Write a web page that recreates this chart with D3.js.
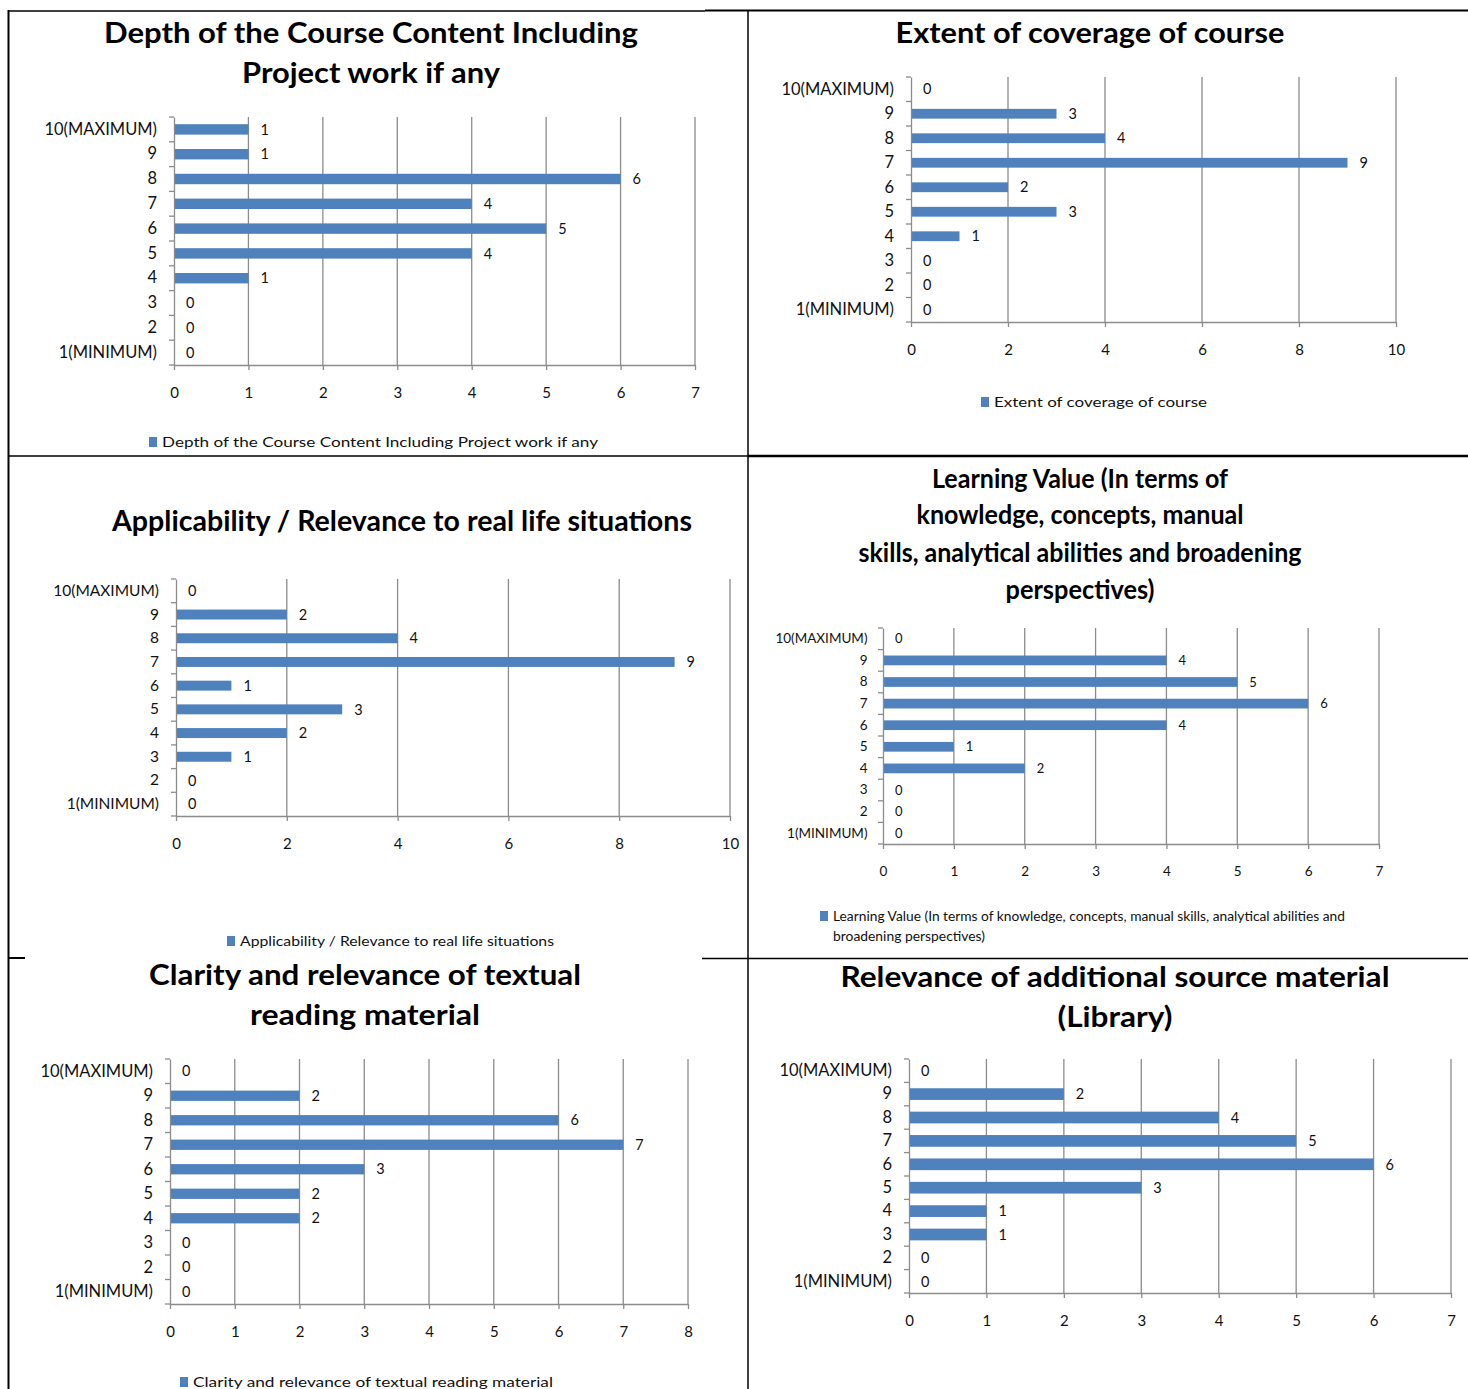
<!DOCTYPE html>
<html><head><meta charset="utf-8">
<script src="https://cdn.jsdelivr.net/npm/d3@7"></script>
<style>body{margin:0;background:#fff} svg{display:block}</style>
</head><body><svg id="c" width="1468" height="1389"></svg>
<script>
// ---------- DATA ----------
const categories = ["10(MAXIMUM)","9","8","7","6","5","4","3","2","1(MINIMUM)"];

const depthValues         = [1,1,6,4,5,4,1,0,0,0];
const coverageValues      = [0,3,4,9,2,3,1,0,0,0];
const applicabilityValues = [0,2,4,9,1,3,2,1,0,0];
const learningValues      = [0,4,5,6,4,1,2,0,0,0];
const clarityValues       = [0,2,6,7,3,2,2,0,0,0];
const libraryValues       = [0,2,4,5,6,3,1,1,0,0];

const depthTicks         = [0,1,2,3,4,5,6,7];
const coverageTicks      = [0,2,4,6,8,10];
const applicabilityTicks = [0,2,4,6,8,10];
const learningTicks      = [0,1,2,3,4,5,6,7];
const clarityTicks       = [0,1,2,3,4,5,6,7,8];
const libraryTicks       = [0,1,2,3,4,5,6,7];

const depthTitle         = ["Depth of the Course Content Including","Project work if any"];
const coverageTitle      = ["Extent of coverage of course"];
const applicabilityTitle = ["Applicability / Relevance to real life situations"];
const learningTitle      = ["Learning Value (In terms of","knowledge, concepts, manual","skills, analytical abilities and broadening","perspectives)"];
const clarityTitle       = ["Clarity and relevance of textual","reading material"];
const libraryTitle       = ["Relevance of additional source material","(Library)"];

const depthLegend         = ["Depth of the Course Content Including Project work if any"];
const coverageLegend      = ["Extent of coverage of course"];
const applicabilityLegend = ["Applicability / Relevance to real life situations"];
const learningLegend      = ["Learning Value (In terms of knowledge, concepts, manual skills, analytical abilities and","broadening perspectives)"];
const clarityLegend       = ["Clarity and relevance of textual reading material"];
const libraryLegend       = [];

// ---------- LAYOUT ----------
const svg = d3.select("#c");
const FONT = "Lato, 'Open Sans', sans-serif";
const BAR = "#4f81bd", GRID = "#8c8c8c", INK = "#111";

const panels = [
  {values:depthValues, ticks:depthTicks, title:depthTitle, legend:depthLegend,
   left:174, right:695, top:117, bottom:365, pad:0.58, tfs:28, fs:15, yfs:16.5,
   titleX:371, titleY:[33,73], titleW:[534,258],
   legX:149, legY:[442], legW:[436]},
  {values:coverageValues, ticks:coverageTicks, title:coverageTitle, legend:coverageLegend,
   left:911, right:1396, top:77, bottom:322, pad:0.6, tfs:28, fs:15, yfs:16.5,
   titleX:1090, titleY:[33], titleW:[389],
   legX:981, legY:[402], legW:[213]},
  {values:applicabilityValues, ticks:applicabilityTicks, title:applicabilityTitle, legend:applicabilityLegend,
   left:176, right:730, top:579, bottom:816, pad:0.58, tfs:28, fs:15, yfs:15.5,
   titleX:402, titleY:[521], titleW:[580],
   legX:227, legY:[941], legW:[314]},
  {values:learningValues, ticks:learningTicks, title:learningTitle, legend:learningLegend,
   left:883, right:1379, top:628, bottom:844, pad:0.55, tfs:26, fs:13.5, yfs:13.5,
   titleX:1080, titleY:[479,515,553,590], titleW:[296,327,443,149],
   legX:820, legY:[916,936], legW:[512,152]},
  {values:clarityValues, ticks:clarityTicks, title:clarityTitle, legend:clarityLegend,
   left:170, right:688, top:1059, bottom:1304, pad:0.58, tfs:28, fs:15, yfs:16.5,
   titleX:365, titleY:[975,1015], titleW:[432,230],
   legX:180, legY:[1382], legW:[360]},
  {values:libraryValues, ticks:libraryTicks, title:libraryTitle, legend:libraryLegend,
   left:909, right:1451, top:1059, bottom:1293, pad:0.5, tfs:28, fs:15, yfs:16.5,
   titleX:1115, titleY:[977,1017], titleW:[549,115],
   legX:0, legY:[], legW:[]}
];

function fit(sel, w){ if(w) sel.attr("textLength", w).attr("lengthAdjust","spacingAndGlyphs"); }

function drawPanel(p){
  const g = svg.append("g");
  const x = d3.scaleLinear().domain([0, d3.max(p.ticks)]).range([p.left, p.right]);
  const y = d3.scaleBand().domain(categories).range([p.top, p.bottom])
              .paddingInner(p.pad).paddingOuter(p.pad/2);
  const rows = p.values.map((v,i)=>({c:categories[i], v}));

  // title
  p.title.forEach((t,i)=>{
    const s = g.append("text").attr("x",p.titleX).attr("y",p.titleY[i]).attr("dy","0.36em")
      .attr("text-anchor","middle").attr("font-family",FONT).attr("font-weight",700)
      .attr("font-size",p.tfs).attr("fill","#000").text(t);
    fit(s, p.titleW[i]);
  });

  // grid
  g.append("g").selectAll("line").data(p.ticks.filter(t=>t>0)).join("line")
    .attr("x1",d=>x(d)).attr("x2",d=>x(d)).attr("y1",p.top).attr("y2",p.bottom)
    .attr("stroke",GRID).attr("stroke-width",1.3);

  // bars
  g.append("g").selectAll("rect").data(rows).join("rect")
    .attr("x",x(0)).attr("y",d=>y(d.c)).attr("width",d=>x(d.v)-x(0))
    .attr("height",y.bandwidth()).attr("fill",BAR);

  // data labels
  g.append("g").selectAll("text").data(rows).join("text")
    .attr("x",d=>x(d.v)+12).attr("y",d=>y(d.c)+y.bandwidth()/2).attr("dy","0.36em")
    .attr("font-family",FONT).attr("font-size",p.fs-0.5).attr("fill",INK).text(d=>d.v);

  // x axis
  const xa = g.append("g").attr("transform",`translate(0,${p.bottom})`)
    .call(d3.axisBottom(x).tickValues(p.ticks).tickSize(5).tickSizeOuter(0).tickPadding(17).tickFormat(d3.format("d")));
  xa.select(".domain").attr("stroke",GRID).attr("stroke-width",1.3);
  xa.selectAll(".tick line").attr("stroke",GRID).attr("stroke-width",1.3);
  xa.selectAll("text").attr("font-family",FONT).attr("font-size",p.fs).attr("fill",INK);

  // y axis
  const ya = g.append("g").attr("transform",`translate(${p.left},0)`)
    .call(d3.axisLeft(y).tickSize(0).tickSizeOuter(0).tickPadding(p.fs+2));
  ya.select(".domain").attr("stroke",GRID).attr("stroke-width",1.3);
  ya.selectAll("text").attr("font-family",FONT).attr("font-size",p.yfs).attr("fill",INK);
  // category boundary ticks
  ya.append("g").selectAll("line").data(d3.range(categories.length+1)).join("line")
    .attr("x1",-5).attr("x2",0)
    .attr("y1",i=>p.top + i*y.step()).attr("y2",i=>p.top + i*y.step())
    .attr("stroke",GRID).attr("stroke-width",1.3);

  // legend
  p.legend.forEach((t,i)=>{
    if(i===0){
      g.append("rect").attr("x",p.legX).attr("y",p.legY[0]-5).attr("width",8).attr("height",10).attr("fill",BAR);
    }
    const s = g.append("text").attr("x",p.legX+13).attr("y",p.legY[i]).attr("dy","0.36em")
      .attr("font-family",FONT).attr("font-size",p.fs-1).attr("fill",INK).text(t);
    fit(s, p.legW[i]);
  });
}
panels.forEach(drawPanel);

// ---------- TABLE BORDERS ----------
const borders = [
  [8.5,10,8.5,1389,2], [748,10,748,1389,1.5],
  [8,11,705,11,1.5], [705,10.5,1468,10.5,2.2],
  [8,456,748,456,1.3], [748,456,1468,456,2.4],
  [8,958,25,958,2], [702,958.5,1468,958.5,1.5]
];
svg.append("g").selectAll("line").data(borders).join("line")
  .attr("x1",d=>d[0]).attr("y1",d=>d[1]).attr("x2",d=>d[2]).attr("y2",d=>d[3])
  .attr("stroke","#000").attr("stroke-width",d=>d[4]);
</script>
</body></html>
